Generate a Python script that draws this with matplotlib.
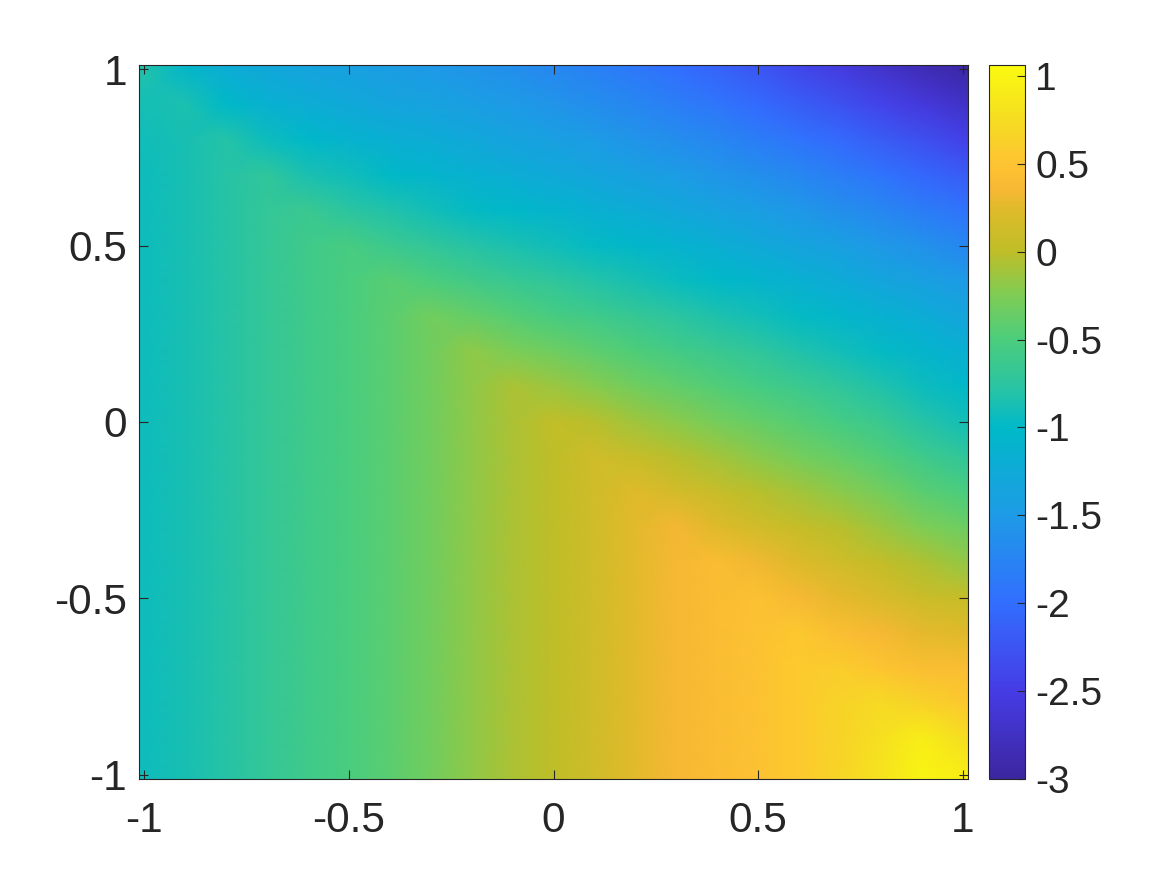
import numpy as np
import matplotlib
matplotlib.use('Agg')
import matplotlib.pyplot as plt
from matplotlib.colors import LinearSegmentedColormap

plt.rcParams['font.family'] = ['Liberation Sans', 'DejaVu Sans']

# outer nodes sit on the edge of the axes
x_grid = [-1.0125, -0.9, -0.8, -0.7, -0.6, -0.5, -0.4, -0.3, -0.2, -0.1, 0,
          0.1, 0.2, 0.3, 0.4, 0.5, 0.6, 0.7, 0.8, 0.9, 1.0125]
y_grid = [1.0125, 0.9, 0.8, 0.7, 0.6, 0.5, 0.4, 0.3, 0.2, 0.1, 0,
          -0.1, -0.2, -0.3, -0.4, -0.5, -0.6, -0.7, -0.8, -0.9, -1.0125]

# values, one list per x_grid entry, running down y_grid
z_xm10 = [-0.8, -0.88, -0.92, -0.93, -0.93, -0.93, -0.93, -0.93, -0.93, -0.93, -0.93, -0.93, -0.93, -0.93, -0.93, -0.93, -0.93, -0.93, -0.93, -0.93, -0.93]
z_xm09 = [-1.05, -0.85, -0.86, -0.86, -0.86, -0.86, -0.86, -0.86, -0.86, -0.86, -0.86, -0.86, -0.86, -0.86, -0.86, -0.86, -0.86, -0.86, -0.86, -0.86, -0.86]
z_xm08 = [-1.22, -1.0, -0.8, -0.78, -0.78, -0.78, -0.78, -0.78, -0.78, -0.78, -0.78, -0.78, -0.78, -0.78, -0.78, -0.78, -0.78, -0.78, -0.78, -0.78, -0.78]
z_xm07 = [-1.3, -1.13, -0.93, -0.72, -0.69, -0.69, -0.69, -0.69, -0.69, -0.69, -0.69, -0.69, -0.69, -0.69, -0.69, -0.69, -0.69, -0.69, -0.69, -0.69, -0.69]
z_xm06 = [-1.36, -1.2, -1.02, -0.85, -0.65, -0.6, -0.6, -0.6, -0.6, -0.6, -0.6, -0.6, -0.6, -0.6, -0.6, -0.6, -0.6, -0.6, -0.6, -0.6, -0.6]
z_xm05 = [-1.42, -1.27, -1.1, -0.92, -0.75, -0.54, -0.51, -0.51, -0.51, -0.51, -0.51, -0.51, -0.51, -0.51, -0.51, -0.51, -0.51, -0.51, -0.51, -0.51, -0.51]
z_xm04 = [-1.47, -1.33, -1.17, -1.0, -0.82, -0.62, -0.43, -0.42, -0.42, -0.42, -0.42, -0.42, -0.42, -0.42, -0.42, -0.42, -0.42, -0.42, -0.42, -0.42, -0.42]
z_xm03 = [-1.52, -1.38, -1.22, -1.07, -0.9, -0.7, -0.5, -0.31, -0.31, -0.31, -0.31, -0.31, -0.31, -0.31, -0.31, -0.31, -0.31, -0.31, -0.31, -0.31, -0.31]
z_xm02 = [-1.58, -1.44, -1.28, -1.13, -0.97, -0.78, -0.58, -0.38, -0.18, -0.18, -0.18, -0.18, -0.18, -0.18, -0.18, -0.18, -0.18, -0.18, -0.18, -0.18, -0.18]
z_xm01 = [-1.65, -1.5, -1.35, -1.2, -1.03, -0.85, -0.66, -0.46, -0.26, -0.08, -0.08, -0.08, -0.08, -0.08, -0.08, -0.08, -0.08, -0.08, -0.08, -0.08, -0.08]
z_x000 = [-1.72, -1.57, -1.42, -1.26, -1.08, -0.92, -0.73, -0.53, -0.33, -0.13, 0.02, 0.0, 0.0, 0.0, 0.0, 0.0, 0.0, 0.0, 0.0, 0.0, 0.0]
z_x001 = [-1.8, -1.65, -1.49, -1.33, -1.15, -0.98, -0.8, -0.6, -0.41, -0.22, -0.03, 0.13, 0.14, 0.14, 0.14, 0.14, 0.14, 0.14, 0.14, 0.14, 0.14]
z_x002 = [-1.9, -1.73, -1.56, -1.4, -1.22, -1.04, -0.87, -0.68, -0.49, -0.31, -0.12, 0.07, 0.25, 0.26, 0.26, 0.26, 0.26, 0.26, 0.26, 0.26, 0.26]
z_x003 = [-2.0, -1.82, -1.64, -1.47, -1.3, -1.11, -0.94, -0.76, -0.57, -0.39, -0.2, -0.02, 0.16, 0.34, 0.35, 0.35, 0.35, 0.35, 0.35, 0.35, 0.35]
z_x004 = [-2.12, -1.92, -1.73, -1.55, -1.37, -1.19, -1.0, -0.83, -0.65, -0.47, -0.29, -0.11, 0.07, 0.25, 0.42, 0.42, 0.42, 0.42, 0.42, 0.42, 0.42]
z_x005 = [-2.25, -2.03, -1.83, -1.63, -1.45, -1.26, -1.07, -0.9, -0.73, -0.55, -0.37, -0.2, -0.02, 0.15, 0.33, 0.46, 0.48, 0.48, 0.48, 0.48, 0.48]
z_x006 = [-2.4, -2.15, -1.93, -1.72, -1.53, -1.34, -1.15, -0.98, -0.82, -0.63, -0.46, -0.29, -0.11, 0.06, 0.23, 0.38, 0.54, 0.56, 0.56, 0.56, 0.56]
z_x007 = [-2.55, -2.28, -2.04, -1.82, -1.62, -1.42, -1.23, -1.05, -0.9, -0.72, -0.55, -0.38, -0.2, -0.03, 0.13, 0.28, 0.44, 0.6, 0.66, 0.66, 0.68]
z_x008 = [-2.7, -2.42, -2.16, -1.93, -1.72, -1.51, -1.32, -1.13, -0.98, -0.82, -0.65, -0.47, -0.3, -0.13, 0.04, 0.2, 0.36, 0.52, 0.72, 0.78, 0.82]
z_x009 = [-2.85, -2.57, -2.3, -2.05, -1.83, -1.6, -1.4, -1.22, -1.07, -0.93, -0.78, -0.6, -0.42, -0.24, -0.06, 0.1, 0.27, 0.43, 0.66, 0.92, 1.0]
z_x010 = [-2.98, -2.72, -2.45, -2.18, -1.95, -1.72, -1.5, -1.32, -1.17, -1.03, -0.9, -0.72, -0.52, -0.34, -0.16, 0.06, 0.25, 0.42, 0.55, 0.75, 0.95]

ticks = [-1, -0.5, 0, 0.5, 1]
tick_labels = ['-1', '-0.5', '0', '0.5', '1']
cbar_ticks = [-3, -2.5, -2, -1.5, -1, -0.5, 0, 0.5, 1]
cbar_labels = ['-3', '-2.5', '-2', '-1.5', '-1', '-0.5', '0', '0.5', '1']

color_min = -3
color_max = 1.0625
color_values = [-3, -2.5, -2, -1.5, -1, -0.75, -0.5, -0.25, 0, 0.25, 0.35, 0.5, 0.75, 1.0625]
color_codes = ['#3c26a0', '#463ce6', '#326eff', '#1e9be6', '#00b9c8', '#2dc5a0', '#4bcd7d',
               '#7dcd55', '#bebe28', '#dfba2a', '#f6b734', '#fec332', '#f5dc23', '#fafa0f']

nodes = [(v - color_min) / (color_max - color_min) for v in color_values]
parula = LinearSegmentedColormap.from_list('parula', list(zip(nodes, color_codes)), N=256)

z = np.array([z_xm10, z_xm09, z_xm08, z_xm07, z_xm06, z_xm05, z_xm04, z_xm03, z_xm02, z_xm01, z_x000,
              z_x001, z_x002, z_x003, z_x004, z_x005, z_x006, z_x007, z_x008, z_x009, z_x010]).T

fig = plt.figure(figsize=(11.67, 8.75), dpi=100)
ax = fig.add_axes([139/1167, 1-779/875, 829/1167, 714/875])
mesh = ax.pcolormesh(x_grid, y_grid, z, cmap=parula, vmin=color_min, vmax=color_max, shading='gouraud')
ax.set_xlim(-1.0125, 1.0125)
ax.set_ylim(-1.0125, 1.0125)
ax.set_xticks(ticks, tick_labels)
ax.set_yticks(ticks, tick_labels)
ax.tick_params(labelsize=30.5, direction='in', length=6.5, width=0.8, top=True, right=True,
               color='#262626', labelcolor='#262626')
ax.tick_params(axis='x', pad=16)
ax.tick_params(axis='y', pad=8.5)
for s in ax.spines.values():
    s.set_linewidth(0.8)
    s.set_color('#262626')

cax = fig.add_axes([989/1167, 1-779/875, 36/1167, 714/875])
cb = fig.colorbar(mesh, cax=cax)
cb.set_ticks(cbar_ticks, labels=cbar_labels)
cb.ax.tick_params(labelsize=28, direction='in', length=6, width=0.8, color='#262626',
                  labelcolor='#262626', pad=7.5)
cb.outline.set_linewidth(0.8)
cb.outline.set_edgecolor('#262626')

fig.savefig('out.png', dpi=100)
